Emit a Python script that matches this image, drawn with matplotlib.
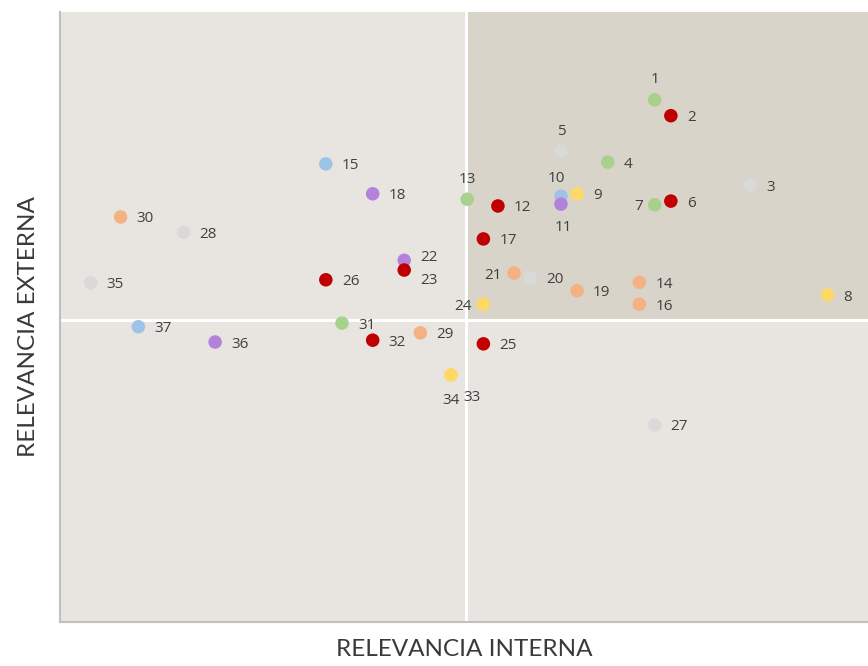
import matplotlib
matplotlib.use("Agg")
import matplotlib.pyplot as plt
from matplotlib.patches import Rectangle

# ── Data ────────────────────────────────────────────────────
ids = [str(i) for i in range(1, 38)]

relevancia_interna = [
    7.36, 7.56, 8.54, 6.78, 6.20, 7.56, 7.36, 9.50, 6.40, 6.20,
    6.20, 5.42, 5.04, 7.17, 3.29, 7.17, 5.24, 3.87, 6.40, 5.82,
    5.62, 4.26, 4.26, 5.24, 5.24, 3.29, 7.36, 1.53, 4.46, 0.75,
    3.49, 3.87, 4.84, 4.84, 0.38, 1.92, 0.97,
]

relevancia_externa = [
    8.56, 8.30, 7.16, 7.54, 7.72, 6.90, 6.84, 5.36, 7.02, 6.98,
    6.85, 6.82, 6.93, 5.57, 7.51, 5.21, 6.28, 7.02, 5.43, 5.64,
    5.72, 5.93, 5.77, 5.21, 4.56, 5.61, 3.23, 6.39, 4.74, 6.64,
    4.90, 4.62, 4.05, 4.05, 5.56, 4.59, 4.84,
]

grupos = [
    "verde", "rojo", "gris", "verde", "gris", "rojo", "verde", "amarillo", "amarillo", "azul",
    "morado", "rojo", "verde", "naranja", "azul", "naranja", "rojo", "morado", "naranja", "gris",
    "naranja", "morado", "rojo", "amarillo", "rojo", "rojo", "gris", "gris", "naranja", "naranja",
    "verde", "rojo", "amarillo", "amarillo", "gris", "morado", "azul",
]

# ── Style ───────────────────────────────────────────────────
COLORES = {
    "verde":    "#A9D18E",
    "rojo":     "#C00000",
    "gris":     "#D9D9D9",
    "amarillo": "#FFD966",
    "azul":     "#9DC3E6",
    "morado":   "#B383DB",
    "naranja":  "#F4B183",
}

X_MID, Y_MID = 5.02, 4.95
X_MAX, Y_MAX = 10.0, 10.0

# label placement (offset in pixels); default is to the right
OFFSETS = {
    "r":  (16, -2, "left", "center"),
    "ru": (16, 3, "left", "center"),
    "rd": (16, -10, "left", "center"),
    "t":  (0, 20, "center", "center"),
    "tl": (-5, 18, "center", "center"),
    "b":  (2, -23, "center", "center"),
    "bl": (0, -26, "center", "center"),
    "br": (21, -23, "center", "center"),
    "l":  (-12, -2, "right", "center"),
}
lugar = {"1": "t", "5": "t", "13": "t", "10": "tl", "11": "b",
         "7": "l", "21": "l", "24": "l", "34": "bl", "33": "br",
         "22": "ru", "23": "rd"}

BG = "#E8E5E1"
QUAD = "#D8D4CA"

fig = plt.figure(figsize=(8.68, 6.66), dpi=100)
ax = fig.add_axes([60 / 868, 44 / 666, 808 / 868, 610 / 666])
ax.set_facecolor(BG)

ax.set_xlim(0, X_MAX)
ax.set_ylim(0, Y_MAX)

# shaded upper-right quadrant
ax.add_patch(Rectangle((X_MID, Y_MID), X_MAX - X_MID, Y_MAX - Y_MID,
                       facecolor=QUAD, edgecolor="none", zorder=0))

# quadrant dividers
ax.axvline(X_MID, color="white", linewidth=2.2, zorder=1)
ax.axhline(Y_MID, color="white", linewidth=2.2, zorder=1)

ax.scatter(relevancia_interna, relevancia_externa,
           c=[COLORES[g] for g in grupos], s=95, linewidths=0, zorder=3)

for name, x, y in zip(ids, relevancia_interna, relevancia_externa):
    dx, dy, ha, va = OFFSETS[lugar.get(name, "r")]
    ax.annotate(name, (x, y), xytext=(dx, dy), textcoords="offset pixels",
                ha=ha, va=va, fontsize=11, color="#404040",
                family="Open Sans", zorder=4)

ax.set_xticks([])
ax.set_yticks([])
for side in ["top", "right"]:
    ax.spines[side].set_visible(False)
for side in ["left", "bottom"]:
    ax.spines[side].set_color("#BFBFBF")
    ax.spines[side].set_linewidth(1.5)

ax.set_xlabel("RELEVANCIA INTERNA", fontsize=17.5, color="#3A3A3A",
              family="Lato", labelpad=12)
ax.set_ylabel("RELEVANCIA EXTERNA", fontsize=17.5, color="#3A3A3A",
              family="Lato")
ax.yaxis.set_label_coords(-0.026, 0.484)

plt.savefig("out.png", dpi=100)
